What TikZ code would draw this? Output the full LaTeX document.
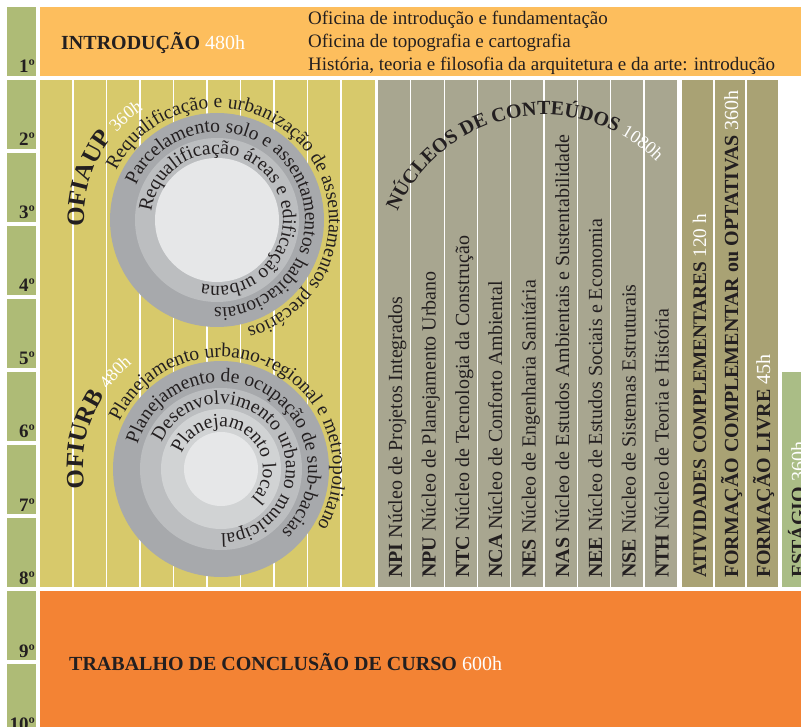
\documentclass[tikz,border=0pt]{standalone}
\usepackage{fontspec}
\setmainfont{Liberation Serif}
\usetikzlibrary{decorations.text}

\definecolor{semverde}{HTML}{AEBB76}
\definecolor{introlaranja}{HTML}{FDBE5D}
\definecolor{oficamarelo}{HTML}{D7C96B}
\definecolor{nucleocinza}{HTML}{A8A690}
\definecolor{formoliva}{HTML}{A9A274}
\definecolor{estagioverde}{HTML}{AABD86}
\definecolor{tcclaranja}{HTML}{F38334}
\definecolor{anelA}{HTML}{A7A9AC}
\definecolor{anelB}{HTML}{BCBEC0}
\definecolor{anelC}{HTML}{D1D3D4}
\definecolor{anelD}{HTML}{E6E7E8}
\definecolor{textoescuro}{HTML}{231F20}

\newcommand{\hrs}[1]{\textcolor{white}{\mdseries #1}}
\newcommand{\fcirc}{\fontsize{19.5}{22}\selectfont\color{textoescuro}}
\newcommand{\fofi}{\fontsize{25}{28}\selectfont\bfseries\color{textoescuro}}
\newcommand{\fnuc}{\fontsize{20}{24}\selectfont\bfseries\color{textoescuro}}
\newcommand{\fhrs}{\fontsize{18}{20}\selectfont\mdseries\color{white}}

\tikzset{
  semlabel/.style={anchor=base east, inner sep=0pt, font=\fontsize{19}{22}\selectfont\bfseries},
  linha/.style={anchor=base west, inner sep=0pt, font=\fontsize{19}{22}\selectfont},
  vtexto/.style={rotate=90, anchor=base west, inner sep=0pt, font=\fontsize{20}{24}\selectfont},
  coluna/.style={white, line width=1.2pt},
  arctexto/.style={decorate, decoration={text along path, text align=left, text={#1}}}
}

\begin{document}
\begin{tikzpicture}[x=1pt, y=1pt, text=textoescuro]
    \useasboundingbox (0,0) rectangle (801,-727);
    \clip (0,0) rectangle (801,-727);

    % semestres
    \fill[semverde] (7,-7) rectangle (36,-76);
    \fill[semverde] (7,-80) rectangle (36,-149);
    \fill[semverde] (7,-153) rectangle (36,-222);
    \fill[semverde] (7,-226) rectangle (36,-295);
    \fill[semverde] (7,-299) rectangle (36,-368);
    \fill[semverde] (7,-372) rectangle (36,-441);
    \fill[semverde] (7,-445) rectangle (36,-514);
    \fill[semverde] (7,-518) rectangle (36,-587);
    \fill[semverde] (7,-591) rectangle (36,-660);
    \fill[semverde] (7,-664) rectangle (36,-733);
    \node[semlabel] (s1) at (35,-73) {1º};
    \node[semlabel] (s2) at (35,-146) {2º};
    \node[semlabel] (s3) at (35,-219) {3º};
    \node[semlabel] (s4) at (35,-292) {4º};
    \node[semlabel] (s5) at (35,-365) {5º};
    \node[semlabel] (s6) at (35,-438) {6º};
    \node[semlabel] (s7) at (35,-511) {7º};
    \node[semlabel] (s8) at (35,-584) {8º};
    \node[semlabel] (s9) at (35,-657) {9º};
    \node[semlabel] (s10) at (35,-730) {10º};

    % introducao
    \fill[introlaranja] (40,-7) rectangle (801,-76);
    \node[linha, font=\fontsize{20}{24}\selectfont\bfseries] (intro) at (61,-50) {INTRODUÇÃO \hrs{480h}};
    \node[linha] (ofc1) at (308,-25) {Oficina de introdução e fundamentação};
    \node[linha] (ofc2) at (308,-48) {Oficina de topografia e cartografia};
    \node[linha] (ofc3) at (308,-71) {História, teoria e filosofia da arquitetura e da arte: introdução};

    % oficinas
    \fill[oficamarelo] (40,-80) rectangle (375,-587);
    \foreach \x in {73,106.5,140,173.5,207,240.5,274,307.5,341}
        \draw[coluna] (\x,-80) -- (\x,-587);

    \coordinate (aup) at (217,-220);
    \fill[anelA] (aup) circle[radius=107];
    \fill[anelB] (aup) circle[radius=82];
    \fill[anelD] (aup) circle[radius=62];
    \path[arctexto={|\fofi|OFIAUP |\fhrs|360h}] (aup) ++(183:133) arc[start angle=183, end angle=60, radius=133];
    \path[arctexto={|\fcirc|Requalificação e urbanização de assentamentos precários}] (aup) ++(154:112) arc[start angle=154, end angle=-170, radius=112];
    \path[arctexto={|\fcirc|Parcelamento solo e assentamentos habitacionais}] (aup) ++(157:88) arc[start angle=157, end angle=-180, radius=88];
    \path[arctexto={|\fcirc|Requalificação áreas e edificação urbana}] (aup) ++(173:66) arc[start angle=173, end angle=-170, radius=66];

    \coordinate (urb) at (221,-469);
    \fill[anelA] (urb) circle[radius=108];
    \fill[anelB] (urb) circle[radius=81];
    \fill[anelC] (urb) circle[radius=60];
    \fill[anelD] (urb) circle[radius=37];
    \path[arctexto={|\fofi|OFIURB |\fhrs|480h}] (urb) ++(188:138) arc[start angle=188, end angle=60, radius=138];
    \path[arctexto={|\fcirc|Planejamento urbano-regional e metropolitano}] (urb) ++(155:112) arc[start angle=155, end angle=-170, radius=112];
    \path[arctexto={|\fcirc|Planejamento de ocupação de sub-bacias}] (urb) ++(163.5:87) arc[start angle=163.5, end angle=-170, radius=87];
    \path[arctexto={|\fcirc|Desenvolvimento urbano municipal}] (urb) ++(156:65) arc[start angle=156, end angle=-170, radius=65];
    \path[arctexto={|\fcirc|Planejamento local}] (urb) ++(159:42) arc[start angle=159, end angle=-170, radius=42];

    % nucleos
    \fill[nucleocinza] (377.5,-80) rectangle (677,-587);
    \foreach \x in {410.8,444.1,477.4,510.7,544,577.3,610.6,643.9}
        \draw[coluna] (\x,-80) -- (\x,-587);
    \node[vtexto] (npi) at (402,-578) {\textbf{NPI} Núcleo de Projetos Integrados};
    \node[vtexto] (npu) at (435.5,-578) {\textbf{NPU} Núcleo de Planejamento Urbano};
    \node[vtexto] (ntc) at (469,-578) {\textbf{NTC} Núcleo de Tecnologia da Construção};
    \node[vtexto] (nca) at (502,-578) {\textbf{NCA} Núcleo de Conforto Ambiental};
    \node[vtexto] (nes) at (535.5,-578) {\textbf{NES} Núcleo de Engenharia Sanitária};
    \node[vtexto] (nas) at (569,-578) {\textbf{NAS} Núcleo de Estudos Ambientais e Sustentabilidade};
    \node[vtexto] (nee) at (602,-578) {\textbf{NEE} Núcleo de Estudos Sociais e Economia};
    \node[vtexto] (nse) at (635.5,-578) {\textbf{NSE} Núcleo de Sistemas Estruturais};
    \node[vtexto] (nth) at (668.5,-578) {\textbf{NTH} Núcleo de Teoria e História};
    \coordinate (nuc) at (544,-274);
    \path[arctexto={|\fnuc|NÚCLEOS DE CONTEÚDOS |\fhrs|1080h}] (nuc) ++(157:159) arc[start angle=157, end angle=0, radius=159];

    % formacao
    \fill[formoliva] (682,-80) rectangle (778,-587);
    \draw[coluna] (714,-80) -- (714,-587);
    \draw[coluna] (746,-80) -- (746,-587);
    \node[vtexto, font=\fontsize{19.2}{24}\selectfont\bfseries] (ativ) at (706,-578) {ATIVIDADES COMPLEMENTARES \hrs{120 h}};
    \node[vtexto, font=\fontsize{20}{24}\selectfont\bfseries] (fcomp) at (738,-578) {FORMAÇÃO COMPLEMENTAR ou OPTATIVAS \hrs{360h}};
    \node[vtexto, font=\fontsize{20}{24}\selectfont\bfseries] (flivre) at (770,-578) {FORMAÇÃO LIVRE \hrs{45h}};

    % estagio
    \fill[estagioverde] (782,-372) rectangle (830,-587);
    \node[vtexto, font=\fontsize{20}{24}\selectfont\bfseries] (estagio) at (805,-578) {ESTÁGIO \hrs{360h}};

    % tcc
    \fill[tcclaranja] (40,-591) rectangle (801,-727);
    \node[linha, font=\fontsize{20}{24}\selectfont\bfseries] (tcc) at (69,-670) {TRABALHO DE CONCLUSÃO DE CURSO \hrs{600h}};

\end{tikzpicture}
\end{document}
